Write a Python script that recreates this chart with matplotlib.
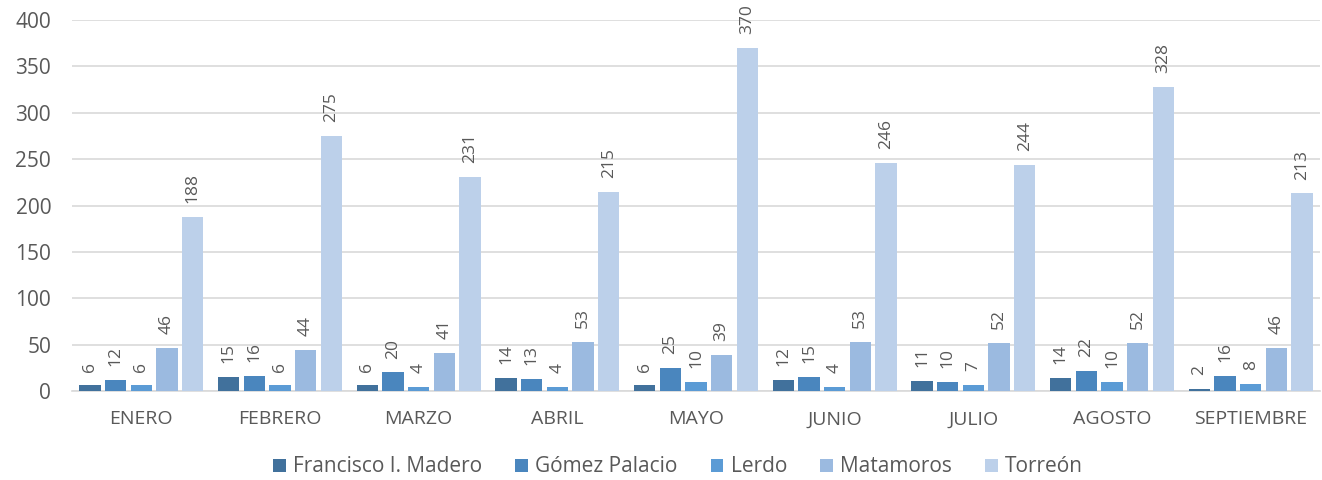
import matplotlib
matplotlib.use("Agg")
import matplotlib.pyplot as plt
import numpy as np

months = ["ENERO", "FEBRERO", "MARZO", "ABRIL", "MAYO", "JUNIO", "JULIO", "AGOSTO", "SEPTIEMBRE"]
series_names = ["Francisco I. Madero", "Gómez Palacio", "Lerdo", "Matamoros", "Torreón"]
francisco = [6, 15, 6, 14, 6, 12, 11, 14, 2]
gomez = [12, 16, 20, 13, 25, 15, 10, 22, 16]
lerdo = [6, 6, 4, 4, 10, 4, 7, 10, 8]
matamoros = [46, 44, 41, 53, 39, 53, 52, 52, 46]
torreon = [188, 275, 231, 215, 370, 246, 244, 328, 213]
yticks = [0, 50, 100, 150, 200, 250, 300, 350, 400]

colors = ["#41719C", "#4A86BE", "#5B9BD5", "#9BBAE0", "#BCD0EA"]
txt = "#595959"

plt.rcParams['font.family'] = ['Open Sans', 'DejaVu Sans']

fig = plt.figure(figsize=(13.22, 4.8), dpi=100)
ax = fig.add_axes([72/1322, 1 - 391/480, 1 - 72/1322 - 2/1322, (391 - 20)/480])

data = [francisco, gomez, lerdo, matamoros, torreon]
x = np.arange(len(months))
step = 0.185
width = 0.155
for i, (name, vals, c) in enumerate(zip(series_names, data, colors)):
    pos = x + (i - 2) * step
    ax.bar(pos, vals, width=width, color=c, label=name, zorder=3)
    for p, v in zip(pos, vals):
        ax.annotate(str(v), (p, v), xytext=(0, 10), textcoords="offset points",
                    rotation=90, ha="center", va="bottom",
                    fontsize=12.5, color=txt, zorder=4)

ax.set_xlim(-0.5, len(months) - 0.5)
ax.set_ylim(0, 400)
ax.set_yticks(yticks)
ax.set_xticks(x)
ax.set_xticklabels(months)
ax.grid(axis="y", color="#D9D9D9", linewidth=1.2, zorder=0)
for s in ["top", "right", "left"]:
    ax.spines[s].set_visible(False)
ax.spines["bottom"].set_color("#D9D9D9")
ax.spines["bottom"].set_linewidth(1.2)
ax.tick_params(axis="both", length=0, colors=txt)
ax.tick_params(axis="x", pad=14, labelsize=14)
ax.tick_params(axis="y", pad=15, labelsize=15)

leg = fig.legend(loc="center", bbox_to_anchor=(0.513, 1 - 467/480), ncol=5, frameon=False,
                 fontsize=15, handlelength=0.6, handleheight=0.6, handletextpad=0.35,
                 columnspacing=1.6)
for t in leg.get_texts():
    t.set_color(txt)

fig.savefig("out.png", dpi=100)
